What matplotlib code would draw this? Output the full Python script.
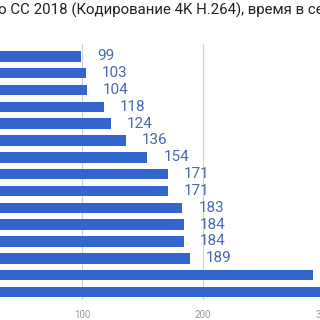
import matplotlib
matplotlib.use('Agg')
import matplotlib.pyplot as plt
import numpy as np

# values (last two labels are cut off in the reference)
times = [99, 103, 104, 118, 124, 136, 154, 171, 171, 183, 184, 184, 189, 291, 312]
labels = ['99', '103', '104', '118', '124', '136', '154', '171', '171', '183',
          '184', '184', '189', '291', '312']
xticks = [0, 100, 200, 300]
title = 'Adobe Premiere Pro CC 2018 (Кодирование 4K H.264), время в секундах'

plt.rcParams['font.family'] = ['Roboto', 'DejaVu Sans']

W, H = 320, 320
fig = plt.figure(figsize=(W / 100, H / 100), dpi=100)

# axes: x=0 sits left of the visible area, the picture is a crop
left_px, right_px = -39, 324
top_px, bot_px = 43.7, 300.4
ax = fig.add_axes([left_px / W, 1 - bot_px / H,
                   (right_px - left_px) / W, (bot_px - top_px) / H])

y = np.arange(len(times))
ax.barh(y, times, height=0.63, color='#3366CC', zorder=2)

for yi, v, lab in zip(y, times, labels):
    ax.annotate(lab, (v, yi), xytext=(16, 0), textcoords='offset pixels',
                va='center', ha='left', fontsize=11, color='#4a68b4', zorder=3)

ax.set_xlim(0, 300)
ax.set_ylim(14.5, -0.75)
ax.set_xticks(xticks)
ax.set_xticklabels([str(t) for t in xticks])
ax.set_yticks([])
ax.grid(True, axis='x', color='#d0d0d0', lw=0.8, zorder=1)
for s in ax.spines.values():
    s.set_visible(False)
ax.tick_params(axis='x', length=0, pad=7, labelsize=7, labelcolor='#999999')

# title, shifted so that "CC" starts near the left edge like the crop
fs_title = 10.8
fig.canvas.draw()
r = fig.canvas.get_renderer()
tmp = fig.text(0, 0, 'Adobe Premiere Pro ', fontsize=fs_title)
pre_w = tmp.get_window_extent(r).width
tmp.remove()
fig.text((10 - pre_w) / W, 1 - 10.5 / H, title, fontsize=fs_title, color='#222222',
         ha='left', va='center')

fig.savefig('out.png', dpi=100)
